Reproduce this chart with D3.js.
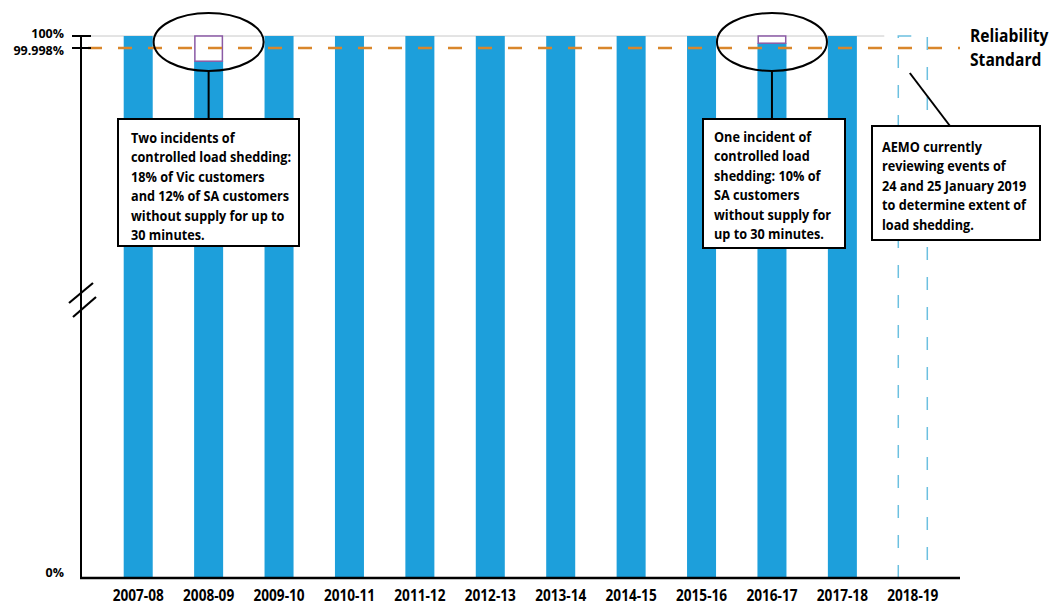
<!DOCTYPE html>
<html>
<head>
<meta charset="utf-8">
<script src="https://cdn.jsdelivr.net/npm/d3@7"></script>
<style>
  html, body { margin: 0; padding: 0; background: #fff; }
  svg { display: block; font-family: "Open Sans", "Noto Sans", sans-serif; font-weight: 700; }
</style>
</head>
<body>
<svg id="chart" width="1062" height="606"></svg>
<script>
// ---- data ----
const categories = ["2007-08","2008-09","2009-10","2010-11","2011-12","2012-13","2013-14","2014-15","2015-16","2016-17","2017-18","2018-19"];
const reliability = [100, 99.9958, 100, 100, 100, 100, 100, 100, 100, 99.9988, 100, null]; // null = under review
const underReview = ["2018-19"];
const standardValue = 99.998;
const yTickValues = [0, 99.998, 100];
const yTickLabels = ["0%", "99.998%", "100%"];
const standardLabel = ["Reliability", "Standard"];
const note1 = ["Two incidents of", "controlled load shedding:", "18% of Vic customers", "and 12% of SA customers", "without supply for up to", "30 minutes."];
const note2 = ["One incident of", "controlled load", "shedding: 10% of", "SA customers", "without supply for", "up to 30 minutes."];
const note3 = ["AEMO currently", "reviewing events of", "24 and 25 January 2019", "to determine extent of", "load shedding."];

// ---- layout ----
const svg = d3.select("#chart");
const axisX = 81, baseY = 578, plotRight = 960;
const x = d3.scaleBand().domain(categories).range([103, 948]).paddingInner(0.588).paddingOuter(0.294);
// broken axis: the top band is stretched
const y = d3.scaleLinear().domain([0, 99.99, 99.998, 100]).range([baseY, 96, 48, 36]);

const blue = "#1d9fdb", orange = "#d9862b", purple = "#8a5aa5", dashBlue = "#6cc0e0";
const k = 0.875; // horizontal condensing of the bold sans

// gray 100% line
svg.append("line").attr("x1", axisX).attr("x2", x("2018-19") - 14)
  .attr("y1", y(100)).attr("y2", y(100)).attr("stroke", "#c8c8c8").attr("stroke-width", 1);

// bars
const data = categories.map((c, i) => ({cat: c, v: reliability[i]}));
svg.append("g").selectAll("rect.bar").data(data.filter(d => d.v != null)).join("rect")
  .attr("class", "bar")
  .attr("x", d => x(d.cat)).attr("width", x.bandwidth())
  .attr("y", d => y(d.v)).attr("height", d => baseY - y(d.v))
  .attr("fill", blue);

// shortfall boxes
svg.append("g").selectAll("rect.gap").data(data.filter(d => d.v != null && d.v < 100)).join("rect")
  .attr("x", d => x(d.cat) + 0.75).attr("width", x.bandwidth() - 1.5)
  .attr("y", y(100)).attr("height", d => y(d.v) - y(100))
  .attr("fill", "#fff").attr("stroke", purple).attr("stroke-width", 1.5);

// under review outline
svg.append("g").selectAll("rect.rev").data(underReview).join("rect")
  .attr("x", d => x(d)).attr("width", x.bandwidth())
  .attr("y", y(100)).attr("height", baseY - y(100))
  .attr("fill", "none").attr("stroke", dashBlue).attr("stroke-width", 1.5)
  .attr("stroke-dasharray", "13,17");

// reliability standard line
svg.append("line").attr("x1", 88).attr("x2", plotRight)
  .attr("y1", y(standardValue)).attr("y2", y(standardValue))
  .attr("stroke", orange).attr("stroke-width", 2.5).attr("stroke-dasharray", "14,16");

// y axis
svg.append("line").attr("x1", axisX).attr("x2", axisX).attr("y1", y(100)).attr("y2", baseY)
  .attr("stroke", "#000").attr("stroke-width", 2);
// x axis
svg.append("line").attr("x1", axisX - 1).attr("x2", plotRight).attr("y1", baseY).attr("y2", baseY)
  .attr("stroke", "#000").attr("stroke-width", 2.5);

// y ticks (only the two upper values carry tick marks)
const labelShift = {0: -1, 99.998: 6.5, 100: 1.5};
yTickValues.forEach((v, i) => {
  if (v > 0) {
    svg.append("line").attr("x1", 72).attr("x2", 91).attr("y1", y(v)).attr("y2", y(v))
      .attr("stroke", "#000").attr("stroke-width", 2);
  }
  svg.append("text").attr("x", 64).attr("y", y(v) + labelShift[v])
    .attr("text-anchor", "end").attr("font-size", 12.5).text(yTickLabels[i]);
});

// axis break marks
const brk = svg.append("g").attr("stroke", "#000").attr("stroke-width", 2.2);
brk.append("line").attr("x1", 69).attr("y1", 303).attr("x2", 93).attr("y2", 283);
brk.append("line").attr("x1", 73).attr("y1", 317).attr("x2", 96).attr("y2", 297);

// x axis labels via d3 axis
const xAxis = d3.axisBottom(x).tickSize(0).tickPadding(0);
const gx = svg.append("g").attr("transform", `translate(0,${baseY})`).call(xAxis);
gx.select(".domain").remove();
gx.selectAll(".tick text")
  .attr("y", 0).attr("dy", 0)
  .attr("transform", `translate(0,23) scale(0.88,1)`)
  .attr("font-size", 15.5).attr("font-family", "Open Sans").attr("font-weight", 700).attr("fill", "#000");

// reliability standard label
const sl = svg.append("g").attr("transform", `translate(970,42) scale(0.92,1)`);
sl.append("text").attr("font-size", 17).selectAll("tspan").data(standardLabel).join("tspan")
  .attr("x", 0).attr("dy", (d, i) => i === 0 ? 0 : 24.5).text(d => d);

// ellipses & connectors
function ellipse(cat) {
  const cx = x(cat) + x.bandwidth() / 2;
  svg.append("ellipse").attr("cx", cx).attr("cy", 42).attr("rx", 55).attr("ry", 29)
    .attr("fill", "none").attr("stroke", "#000").attr("stroke-width", 2);
  return cx;
}
const c1 = ellipse("2008-09");
const c2 = ellipse("2016-17");
svg.append("line").attr("x1", c1).attr("x2", c1).attr("y1", 71).attr("y2", 119).attr("stroke", "#000").attr("stroke-width", 2);
svg.append("line").attr("x1", c2).attr("x2", c2).attr("y1", 71).attr("y2", 119).attr("stroke", "#000").attr("stroke-width", 2);
const c3 = x("2018-19") + x.bandwidth() / 2;
svg.append("line").attr("x1", c3 - 3).attr("y1", 73).attr("x2", 950).attr("y2", 126).attr("stroke", "#000").attr("stroke-width", 2);

function note(lines, bx, by, bw, bh, tx, ty) {
  svg.append("rect").attr("x", bx).attr("y", by).attr("width", bw).attr("height", bh)
    .attr("fill", "#fff").attr("stroke", "#000").attr("stroke-width", 2);
  const g = svg.append("g").attr("transform", `translate(${tx},${ty}) scale(${k},1)`);
  g.append("text").attr("font-size", 14.5).selectAll("tspan").data(lines).join("tspan")
    .attr("x", 0).attr("dy", (d, i) => i === 0 ? 0 : 19.4).text(d => d);
}
note(note1, 118, 119, 181, 127, 131, 143);
note(note2, 703, 119, 142, 129, 714, 142);
note(note3, 872, 126, 168, 114, 882, 152);
</script>
</body>
</html>
